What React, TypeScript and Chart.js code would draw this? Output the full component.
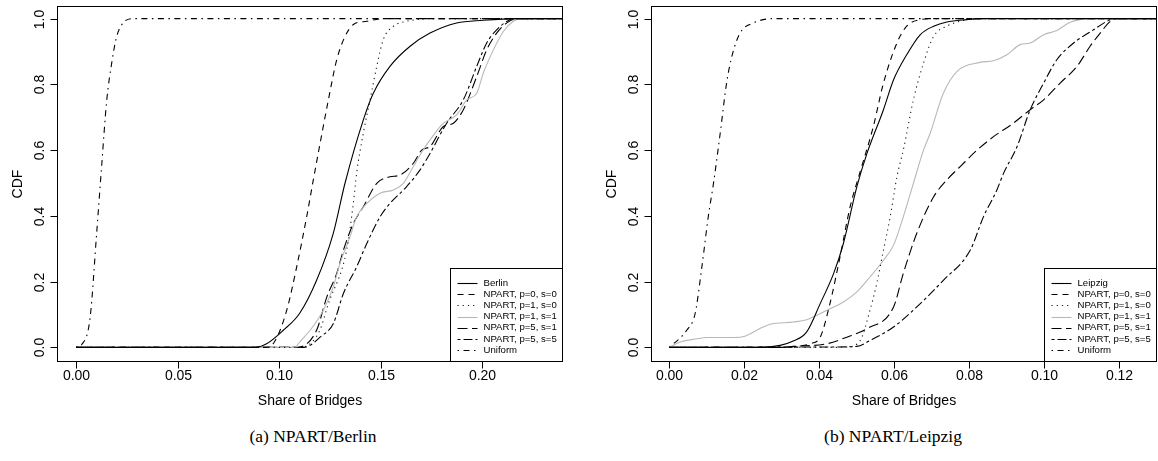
import React, { useEffect, useRef } from 'react';
import { Chart, registerables } from 'chart.js';
Chart.register(...registerables);

const SANS = '"Liberation Sans", Arial, Helvetica, sans-serif';

// ---------------- data: panel (a) Berlin ----------------
const berlinLabels = ['Berlin', 'NPART, p=0, s=0', 'NPART, p=1, s=0', 'NPART, p=1, s=1', 'NPART, p=5, s=1', 'NPART, p=5, s=5', 'Uniform'];

const bCityX = [0, 0.088, 0.0938, 0.102, 0.110, 0.1184, 0.1266, 0.1324, 0.1414, 0.1463, 0.1545, 0.1644, 0.1742, 0.1873, 0.2004, 0.2169, 0.2393];
const bCityY = [0, 0, 0.011, 0.052, 0.103, 0.204, 0.347, 0.50, 0.692, 0.773, 0.855, 0.916, 0.956, 0.987, 0.995, 1, 1];

const bP0S0X = [0, 0.094, 0.098, 0.1037, 0.1086, 0.1135, 0.1168, 0.1242, 0.1283, 0.1324, 0.1365, 0.1431, 0.1512, 0.2393];
const bP0S0Y = [0, 0, 0.02, 0.113, 0.245, 0.397, 0.51, 0.753, 0.875, 0.946, 0.982, 0.992, 1, 1];

const bP1S0X = [0, 0.110, 0.115, 0.120, 0.1242, 0.1332, 0.1365, 0.1381, 0.1414, 0.1447, 0.148, 0.1512, 0.1562, 0.1627, 0.1677, 0.175, 0.2393];
const bP1S0Y = [0, 0, 0.01, 0.052, 0.133, 0.296, 0.44, 0.53, 0.652, 0.753, 0.855, 0.936, 0.977, 0.992, 0.997, 1, 1];

const bP1S1X = [0, 0.108, 0.1094, 0.1152, 0.1217, 0.1266, 0.1299, 0.1348, 0.1381, 0.1431, 0.1496, 0.1562, 0.1611, 0.166, 0.1693, 0.1742, 0.1808, 0.1873, 0.1923, 0.1972, 0.2004, 0.2054, 0.2103, 0.2152, 0.2185, 0.2393];
const bP1S1Y = [0, 0, 0.011, 0.052, 0.113, 0.184, 0.255, 0.336, 0.397, 0.438, 0.469, 0.479, 0.499, 0.55, 0.585, 0.631, 0.682, 0.707, 0.753, 0.773, 0.834, 0.905, 0.961, 0.992, 1, 1];

const bP5S1X = [0, 0.108, 0.1102, 0.1184, 0.1234, 0.1283, 0.1316, 0.1365, 0.1414, 0.148, 0.1545, 0.1594, 0.166, 0.1701, 0.1742, 0.1808, 0.1857, 0.1906, 0.1972, 0.2021, 0.207, 0.212, 0.2169, 0.2393];
const bP5S1Y = [0, 0, 0.001, 0.052, 0.153, 0.225, 0.296, 0.377, 0.428, 0.499, 0.519, 0.524, 0.56, 0.60, 0.611, 0.672, 0.682, 0.723, 0.824, 0.905, 0.956, 0.987, 1, 1];

const bP5S5X = [0, 0.112, 0.1152, 0.1201, 0.1266, 0.1316, 0.1381, 0.1431, 0.1496, 0.1545, 0.1627, 0.1693, 0.1742, 0.1824, 0.1906, 0.1972, 0.2021, 0.207, 0.2136, 0.217, 0.2393];
const bP5S5Y = [0, 0, 0.006, 0.031, 0.072, 0.164, 0.245, 0.316, 0.397, 0.438, 0.489, 0.54, 0.59, 0.682, 0.753, 0.855, 0.926, 0.966, 0.997, 1, 1];

const bUnifX = [0, 0.003, 0.0069, 0.0102, 0.0126, 0.0151, 0.0176, 0.020, 0.0232, 0.028, 0.2393];
const bUnifY = [0, 0.01, 0.088, 0.35, 0.55, 0.75, 0.866, 0.945, 0.987, 1, 1];

// ---------------- data: panel (b) Leipzig ----------------
const leipzigLabels = ['Leipzig', 'NPART, p=0, s=0', 'NPART, p=1, s=0', 'NPART, p=1, s=1', 'NPART, p=5, s=1', 'NPART, p=5, s=5', 'Uniform'];

const lCityX = [0, 0.0242, 0.0296, 0.0331, 0.0367, 0.0403, 0.0439, 0.0465, 0.0501, 0.0528, 0.0572, 0.0599, 0.0634, 0.067, 0.0706, 0.0741, 0.0795, 0.0838, 0.13];
const lCityY = [0, 0, 0.006, 0.019, 0.047, 0.133, 0.225, 0.316, 0.489, 0.59, 0.723, 0.814, 0.89, 0.951, 0.977, 0.99, 0.997, 1, 1];

const lP0S0X = [0, 0.03, 0.034, 0.0376, 0.0403, 0.0429, 0.0456, 0.0483, 0.051, 0.0545, 0.0572, 0.0608, 0.0634, 0.067, 0.0706, 0.13];
const lP0S0Y = [0, 0, 0.003, 0.011, 0.031, 0.133, 0.275, 0.428, 0.535, 0.672, 0.804, 0.926, 0.977, 0.997, 1, 1];

const lP1S0X = [0, 0.045, 0.0474, 0.051, 0.0536, 0.0554, 0.0572, 0.059, 0.0608, 0.0625, 0.0652, 0.0679, 0.0706, 0.0741, 0.0777, 0.081, 0.13];
const lP1S0Y = [0, 0, 0.001, 0.021, 0.113, 0.194, 0.296, 0.397, 0.519, 0.60, 0.753, 0.865, 0.946, 0.977, 0.992, 1, 1];

const lP1S1X = [0, 0.0029, 0.0073, 0.01, 0.0171, 0.0202, 0.0242, 0.0269, 0.0331, 0.0367, 0.0421, 0.0465, 0.0501, 0.0536, 0.0572, 0.0599, 0.0625, 0.0652, 0.0679, 0.0697, 0.0732, 0.0768, 0.083, 0.0866, 0.0902, 0.0937, 0.0964, 0.1, 0.1035, 0.1071, 0.1124, 0.13];
const lP1S1Y = [0, 0.016, 0.026, 0.03, 0.03, 0.034, 0.057, 0.07, 0.077, 0.084, 0.113, 0.138, 0.169, 0.214, 0.265, 0.311, 0.397, 0.499, 0.60, 0.652, 0.773, 0.839, 0.867, 0.872, 0.89, 0.921, 0.926, 0.951, 0.964, 0.989, 1, 1];

const lP5S1X = [0, 0.03, 0.0331, 0.0421, 0.0474, 0.0528, 0.0599, 0.0625, 0.0661, 0.0706, 0.0741, 0.0777, 0.0822, 0.0866, 0.0919, 0.0964, 0.1, 0.1044, 0.1089, 0.1124, 0.1151, 0.1178, 0.1196, 0.13];
const lP5S1Y = [0, 0, 0.003, 0.011, 0.031, 0.057, 0.123, 0.225, 0.347, 0.458, 0.509, 0.55, 0.60, 0.641, 0.682, 0.723, 0.753, 0.804, 0.855, 0.916, 0.956, 0.992, 1, 1];

const lP5S5X = [0, 0.042, 0.0501, 0.0536, 0.0599, 0.0661, 0.0732, 0.0804, 0.0839, 0.0875, 0.0893, 0.0929, 0.0964, 0.1, 0.1035, 0.108, 0.1133, 0.1169, 0.1187, 0.13];
const lP5S5Y = [0, 0.001, 0.003, 0.021, 0.062, 0.123, 0.204, 0.296, 0.397, 0.479, 0.53, 0.611, 0.723, 0.804, 0.875, 0.926, 0.966, 0.992, 1, 1];

const lUnifX = [0, 0.00465, 0.0069, 0.0087, 0.0104, 0.0118, 0.0136, 0.0153, 0.0167, 0.0189, 0.0225, 0.0278, 0.13];
const lUnifY = [0, 0.052, 0.103, 0.245, 0.397, 0.499, 0.652, 0.804, 0.885, 0.956, 0.987, 1, 1];

// ---------------- ticks & texts ----------------
const yTicks = [0, 0.2, 0.4, 0.6, 0.8, 1.0];
const xTicksBerlin = [0, 0.05, 0.1, 0.15, 0.2];
const xTicksLeipzig = [0, 0.02, 0.04, 0.06, 0.08, 0.1, 0.12];
const xTitle = 'Share of Bridges';
const yTitle = 'CDF';
const captionA = '(a) NPART/Berlin';
const captionB = '(b) NPART/Leipzig';

// ---------------- styles ----------------
const lineStyles = [
  { color: '#000000', dash: [] as number[] },
  { color: '#000000', dash: [6, 5] },
  { color: '#1a1a1a', dash: [1.2, 4] },
  { color: '#b8b8b8', dash: [] as number[] },
  { color: '#000000', dash: [10, 4.5] },
  { color: '#000000', dash: [3, 3, 9, 3] },
  { color: '#000000', dash: [1.5, 4.5, 6, 4.5] },
];

function mk(label: string, xs: number[], ys: number[], i: number) {
  return {
    label,
    data: xs.map((x, k) => ({ x, y: ys[k] })),
    borderColor: lineStyles[i].color,
    borderDash: lineStyles[i].dash,
    borderWidth: 1.1,
    pointRadius: 0,
    fill: false,
    cubicInterpolationMode: 'monotone' as const,
  };
}

const rFrame = {
  id: 'rFrame',
  afterDatasetsDraw(chart: any, _args: any, opts: any) {
    const { ctx, chartArea: a } = chart;
    const xs = chart.scales.x;
    const ys = chart.scales.y;
    const L = Math.round(a.left) + 0.5;
    const R = Math.round(a.right) + 0.5;
    const T = Math.round(a.top) + 0.5;
    const B = Math.round(a.bottom) + 0.5;
    ctx.save();
    ctx.setLineDash([]);
    ctx.lineWidth = 1;
    ctx.strokeStyle = '#000';
    ctx.fillStyle = '#000';
    ctx.strokeRect(L, T, R - L, B - T);

    ctx.font = `14px ${SANS}`;
    ctx.textAlign = 'center';
    ctx.textBaseline = 'middle';
    for (const v of opts.xTicks as number[]) {
      const px = Math.round(xs.getPixelForValue(v)) + 0.5;
      ctx.beginPath();
      ctx.moveTo(px, B);
      ctx.lineTo(px, B + 7);
      ctx.stroke();
      ctx.fillText(v.toFixed(2), px, B + 15);
    }
    for (const v of yTicks) {
      const py = Math.round(ys.getPixelForValue(v)) + 0.5;
      ctx.beginPath();
      ctx.moveTo(L - 7, py);
      ctx.lineTo(L, py);
      ctx.stroke();
      ctx.save();
      ctx.translate(L - 17, py);
      ctx.rotate(-Math.PI / 2);
      ctx.fillText(v.toFixed(1), 0, 0);
      ctx.restore();
    }
    ctx.fillText(xTitle, (L + R) / 2, B + 40);
    ctx.save();
    ctx.translate(L - 39, (T + B) / 2);
    ctx.rotate(-Math.PI / 2);
    ctx.fillText(yTitle, 0, 0);
    ctx.restore();

    // legend (bottom right)
    const lw = 112;
    const lh = 93;
    const lx = Math.round(a.right - lw) + 0.5;
    const ly = Math.round(a.bottom - lh) + 0.5;
    ctx.fillStyle = '#fff';
    ctx.fillRect(lx, ly, lw, lh);
    ctx.strokeRect(lx, ly, R - lx, B - ly);
    ctx.font = `9.6px ${SANS}`;
    ctx.textAlign = 'left';
    chart.data.datasets.forEach((ds: any, i: number) => {
      const yy = ly + 14.5 + i * 11.2;
      ctx.strokeStyle = ds.borderColor;
      ctx.lineWidth = 1.1;
      ctx.setLineDash(ds.borderDash);
      ctx.beginPath();
      ctx.moveTo(lx + 7, Math.round(yy) + 0.5);
      ctx.lineTo(lx + 27, Math.round(yy) + 0.5);
      ctx.stroke();
      ctx.fillStyle = '#000';
      ctx.fillText(ds.label, lx + 33, yy);
    });
    ctx.restore();
  },
};

type PanelProps = {
  left: number;
  datasets: any[];
  xMin: number;
  xMax: number;
  xTicks: number[];
  padLeft: number;
  padRight: number;
};

function Panel({ left, datasets, xMin, xMax, xTicks, padLeft, padRight }: PanelProps) {
  const ref = useRef<HTMLCanvasElement>(null);
  useEffect(() => {
    const chart = new Chart(ref.current as HTMLCanvasElement, {
      type: 'line',
      data: { datasets },
      options: {
        responsive: false,
        animation: false,
        devicePixelRatio: 1,
        layout: { padding: { left: padLeft, right: padRight, top: 5.5, bottom: 420 - 360.5 } },
        scales: {
          x: { type: 'linear', min: xMin, max: xMax, display: false },
          y: { type: 'linear', min: -0.04, max: 1.04, display: false },
        },
        plugins: {
          legend: { display: false },
          tooltip: { enabled: false },
          rFrame: { xTicks },
        } as any,
      },
      plugins: [rFrame as any],
    });
    return () => chart.destroy();
  }, []);
  return (
    <canvas
      ref={ref}
      width={579}
      height={420}
      style={{ position: 'absolute', left, top: 0, width: 579, height: 420 }}
    />
  );
}

export default function App() {
  const berlinSets = [
    mk(berlinLabels[0], bCityX, bCityY, 0),
    mk(berlinLabels[1], bP0S0X, bP0S0Y, 1),
    mk(berlinLabels[2], bP1S0X, bP1S0Y, 2),
    mk(berlinLabels[3], bP1S1X, bP1S1Y, 3),
    mk(berlinLabels[4], bP5S1X, bP5S1Y, 4),
    mk(berlinLabels[5], bP5S5X, bP5S5Y, 5),
    mk(berlinLabels[6], bUnifX, bUnifY, 6),
  ];
  const leipzigSets = [
    mk(leipzigLabels[0], lCityX, lCityY, 0),
    mk(leipzigLabels[1], lP0S0X, lP0S0Y, 1),
    mk(leipzigLabels[2], lP1S0X, lP1S0Y, 2),
    mk(leipzigLabels[3], lP1S1X, lP1S1Y, 3),
    mk(leipzigLabels[4], lP5S1X, lP5S1Y, 4),
    mk(leipzigLabels[5], lP5S5X, lP5S5Y, 5),
    mk(leipzigLabels[6], lUnifX, lUnifY, 6),
  ];
  const capStyle: React.CSSProperties = {
    position: 'absolute',
    top: 425,
    width: 300,
    textAlign: 'center',
    fontFamily: '"Liberation Serif", "DejaVu Serif", serif',
    fontSize: 17.5,
    lineHeight: '22px',
    color: '#000',
  };
  return (
    <div style={{ position: 'absolute', left: 0, top: 0, width: 1158, height: 461, background: '#fff', overflow: 'hidden' }}>
      <Panel left={0} datasets={berlinSets} xMin={-0.0092} xMax={0.2393} xTicks={xTicksBerlin} padLeft={57.3} padRight={16.7} />
      <Panel left={579} datasets={leipzigSets} xMin={-0.005} xMax={0.13} xTicks={xTicksLeipzig} padLeft={71.6} padRight={2} />
      <div style={{ ...capStyle, left: 313 - 150 }}>{captionA}</div>
      <div style={{ ...capStyle, left: 893 - 150 }}>{captionB}</div>
    </div>
  );
}
